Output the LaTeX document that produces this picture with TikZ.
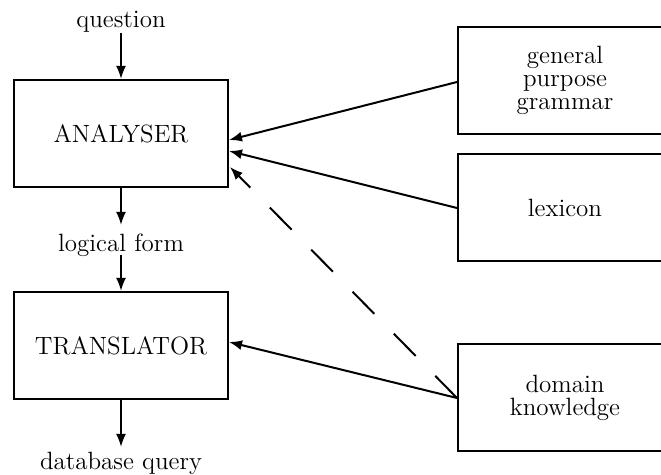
\documentclass[tikz,border=0pt]{standalone}
\usetikzlibrary{arrows.meta,calc}
\begin{document}
\begin{tikzpicture}[x=0.5pt,y=-0.5pt,
  every node/.style={font={\fontsize{12.5}{11.5}\selectfont}},
  box/.style={draw,line width=1pt,minimum width=107pt,minimum height=53.5pt,inner sep=0pt,align=center},
  lbl/.style={inner sep=0pt,anchor=base},
  arr/.style={line width=1pt,-{Latex[length=6.5pt,width=5pt]}},
  dsh/.style={arr,dash pattern=on 15.5pt off 14pt}]
\useasboundingbox (0,0) rectangle (661,475);
\clip (0,0) rectangle (661,475);
\node[box] (analyser) at (121,133.5) {ANALYSER};
\node[box] (translator) at (121,345.5) {TRANSLATOR};
\node[box] (grammar) at (565,80.5) {general\\purpose\\grammar};
\node[box] (lexicon) at (565,207.5) {lexicon};
\node[box] (domain) at (565,398) {domain\\knowledge};
\node[lbl] (question) at (121,28) {question};
\node[lbl] (logical) at (121,252) {logical form};
\node[lbl] (query) at (121,470) {database query};
\coordinate (q1) at ($(question.base)+(0,5)$);
\coordinate (l0) at ($(logical.base)+(0,-27)$);
\coordinate (l1) at ($(logical.base)+(0,3)$);
\coordinate (d0) at ($(query.base)+(0,-23)$);
\draw[arr] (q1) -- (analyser.north);
\draw[arr] (analyser.south) -- (l0);
\draw[arr] (l1) -- (translator.north);
\draw[arr] (translator.south) -- (d0);
\coordinate (a1) at ($(analyser.east)+(0,6.5)$);
\coordinate (a2) at ($(analyser.east)+(0,17.5)$);
\coordinate (a3) at ($(analyser.east)+(1,33.5)$);
\coordinate (t1) at ($(translator.east)+(0,-3.5)$);
\coordinate (g0) at ($(grammar.west)+(0,1.5)$);
\coordinate (x0) at ($(lexicon.west)+(0,0.5)$);
\draw[arr] (g0) -- (a1);
\draw[arr] (x0) -- (a2);
\draw[dsh] (domain.west) -- (a3);
\draw[arr] (domain.west) -- (t1);
\end{tikzpicture}
\end{document}
